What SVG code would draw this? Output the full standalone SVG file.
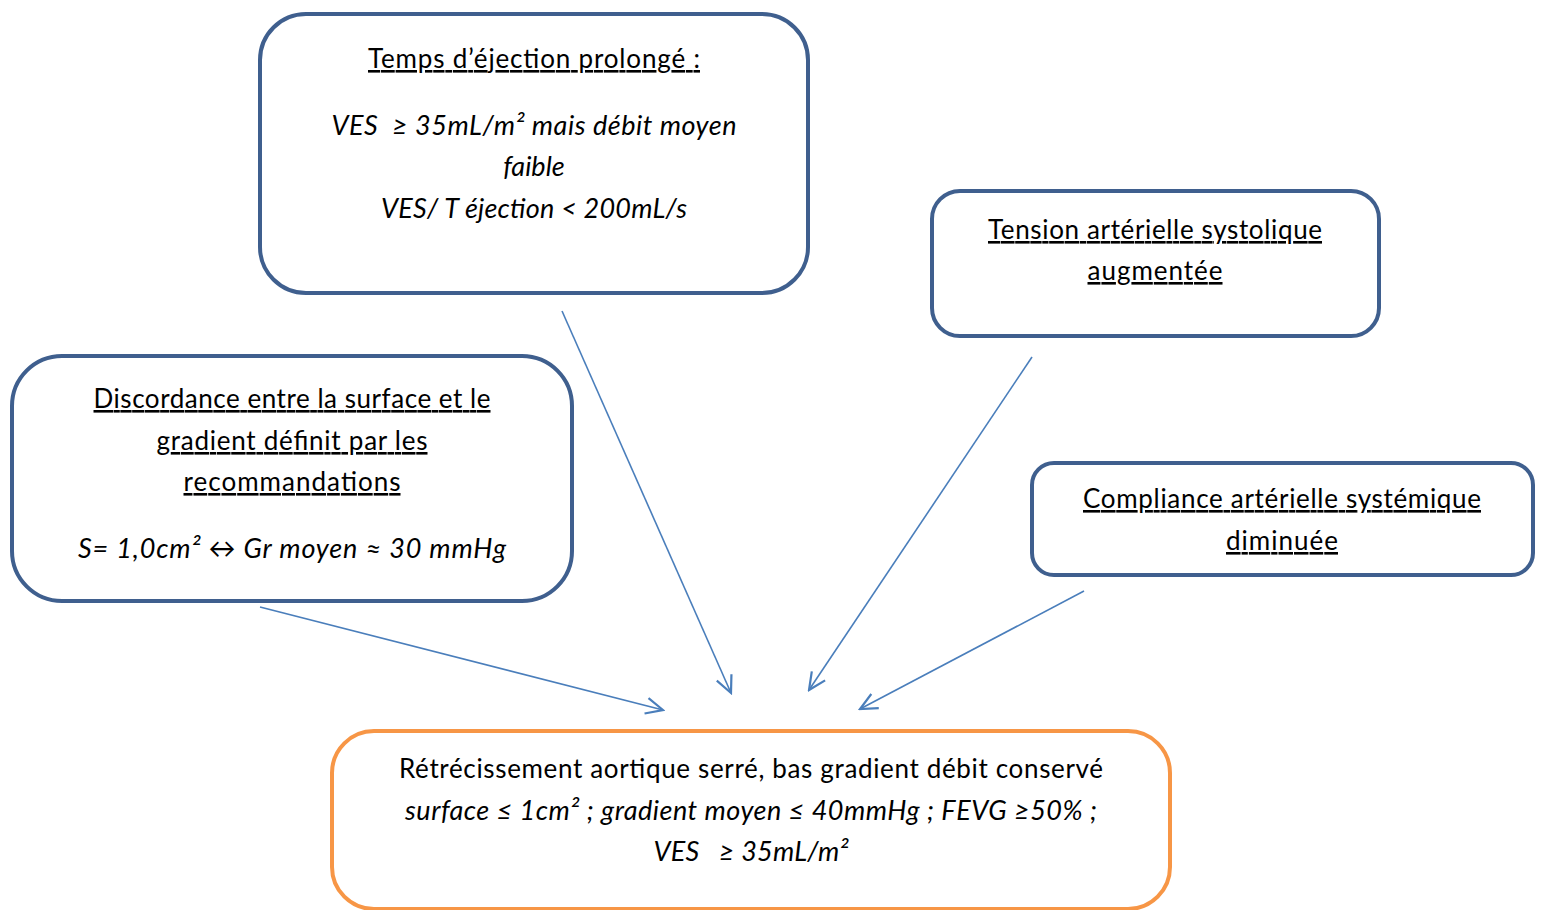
<svg xmlns="http://www.w3.org/2000/svg" width="1542" height="910" viewBox="0 0 1542 910">
<defs>
<style>
.box{fill:#ffffff;stroke:#3F5F8E;stroke-width:4}
.main{fill:#ffffff;stroke:#F79646;stroke-width:4}
.t{font-family:Lato,"Open Sans","Liberation Sans",sans-serif;font-size:26px;fill:#000000;text-anchor:middle}
.u{text-decoration:underline}
.i{font-style:italic;font-size:27px}
.conn line{stroke:#4A7EBB;stroke-width:1.6;fill:none}
</style>
<marker id="ah" markerUnits="userSpaceOnUse" viewBox="-20 -10 22 20" refX="0" refY="0" markerWidth="22" markerHeight="20" orient="auto">
<path d="M-17,-8 L0,0 L-17,8" fill="none" stroke="#4A7EBB" stroke-width="2.2"/>
</marker>
</defs>
<rect width="1542" height="910" fill="#ffffff"/>
<g id="node-temps">
<rect class="box" x="260" y="14" width="548" height="279" rx="46" ry="46"/>
<text class="t u" x="534" y="68" textLength="332">Temps d’éjection prolongé :</text>
<text class="t i" x="534" y="135" textLength="405">VES &#160;≥ 35mL/m² mais débit moyen</text>
<text class="t i" x="534" y="176">faible</text>
<text class="t i" x="534" y="218" textLength="306">VES/ T éjection &lt; 200mL/s</text>
</g>
<g id="node-tension">
<rect class="box" x="932" y="191" width="447" height="145" rx="28" ry="28"/>
<text class="t u" x="1155" y="239" textLength="334">Tension artérielle systolique</text>
<text class="t u" x="1155" y="280" textLength="135">augmentée</text>
</g>
<g id="node-discordance">
<rect class="box" x="12" y="356" width="560" height="245" rx="50" ry="50"/>
<text class="t u" x="292" y="408" textLength="397">Discordance entre la surface et le</text>
<text class="t u" x="292" y="450" textLength="271">gradient définit par les</text>
<text class="t u" x="292" y="491" textLength="217">recommandations</text>
<text class="t i" x="292" y="558" textLength="428">S= 1,0cm² ↔ Gr moyen ≈ 30 mmHg</text>
</g>
<g id="node-compliance">
<rect class="box" x="1032" y="463" width="501" height="112" rx="22" ry="22"/>
<text class="t u" x="1282" y="508" textLength="398">Compliance artérielle systémique</text>
<text class="t u" x="1282" y="550" textLength="112">diminuée</text>
</g>
<g id="node-ras">
<rect class="main" x="332" y="731" width="838" height="178" rx="42" ry="42"/>
<text class="t" x="751" y="778" textLength="704">Rétrécissement aortique serré, bas gradient débit conservé</text>
<text class="t i" x="751" y="820" textLength="692">surface ≤ 1cm² ; gradient moyen ≤ 40mmHg ; FEVG ≥50% ;</text>
<text class="t i" x="751" y="861" textLength="195">VES &#160;&#160;≥ 35mL/m²</text>
</g>
<g id="connectors" class="conn">
<line x1="260" y1="607" x2="663" y2="710" marker-end="url(#ah)"/>
<line x1="562" y1="311" x2="731" y2="693" marker-end="url(#ah)"/>
<line x1="1032" y1="357" x2="809" y2="690" marker-end="url(#ah)"/>
<line x1="1084" y1="591" x2="860" y2="709" marker-end="url(#ah)"/>
</g>
</svg>
